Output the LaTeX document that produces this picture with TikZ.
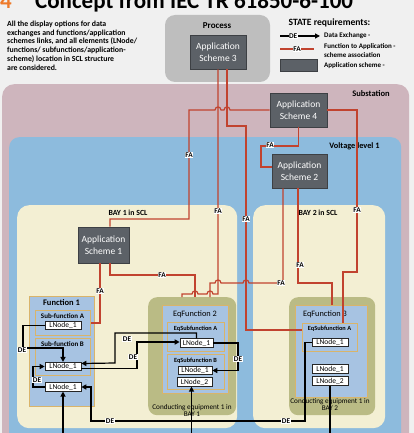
\documentclass[tikz,border=0pt]{standalone}
\usepackage{fontspec}
\setmainfont{Carlito}
\usetikzlibrary{arrows.meta}
\definecolor{bg}{HTML}{F0F0F0}
\definecolor{procgray}{HTML}{BEBEBE}
\definecolor{asfill}{HTML}{5C6167}
\definecolor{asborder}{HTML}{3D4044}
\definecolor{subst}{HTML}{CEB5BD}
\definecolor{vlblue}{HTML}{8DBBDD}
\definecolor{baycream}{HTML}{F3EFD3}
\definecolor{olive}{HTML}{BABB85}
\definecolor{fblue}{HTML}{A7C3E2}
\definecolor{forange}{HTML}{D9B46A}
\definecolor{fared}{HTML}{C1432F}
\definecolor{titleorange}{HTML}{EE7A2A}
\newcommand\myfs[2]{\fontsize{#1pt}{#2pt}\selectfont}
\begin{document}
\begin{tikzpicture}[x=1pt,y=-1pt,
  fa/.style={draw=fared, line width=1.2pt},
  de/.style={draw=black, line width=1.2pt},
  dea/.style={de, -{Triangle[length=5pt,width=5pt]}},
  appbox/.style={draw=asborder, fill=asfill, line width=0.8pt, text=white, font=\myfs{9.5}{12}, align=center, inner sep=0},
  cont/.style={anchor=north west, inner sep=0, draw=none},
  fbox/.style={cont, fill=fblue, draw=forange, line width=1pt},
  subbox/.style={cont, fill=fblue, draw=forange, line width=0.8pt},
  lnode/.style={draw=black!85, fill=white, line width=0.6pt, font=\myfs{7.5}{8}, inner sep=0, minimum width=36pt, minimum height=8.5pt},
  lbl/.style={fill=white, inner sep=0.8pt, font=\bfseries\myfs{7.3}{8}},
  hdr/.style={font=\bfseries\myfs{7.8}{9}, inner sep=0},
  sublbl/.style={font=\bfseries\myfs{6.5}{7}, inner sep=0},
  eqlbl/.style={font=\myfs{8.3}{9}, inner sep=0},
  cond/.style={font=\myfs{7.2}{7}, align=center, inner sep=0}
]
\useasboundingbox (0,0) rectangle (414,433);
\clip (0,0) rectangle (414,433);
\fill[bg] (0,0) rectangle (414,433);

% title
\node[anchor=base west, inner sep=0, text=titleorange, font=\bfseries\myfs{23}{23}] (num) at (0,9) {4};
\node[anchor=base west, inner sep=0, font=\bfseries\myfs{23}{23}] (title) at (35,9) {Concept from IEC TR 61850-6-100};

% intro text
\node[anchor=north west, align=left, inner sep=0, font=\bfseries\myfs{7.8}{8.9}] (intro) at (7,20.5)
 {All the display options for data\\exchanges and functions/application\\schemes links, and all elements (LNode/\\functions/ subfunctions/application-\\scheme) location in SCL structure\\are considered.};

% process
\node[fill=procgray, rounded corners=10pt, minimum width=105pt, minimum height=67pt, inner sep=0] (process) at (217.5,48.5) {};
\node[font=\bfseries\myfs{9}{10}, inner sep=0] (proclbl) at (217,26) {Process};
\node[appbox, minimum width=56pt, minimum height=34pt] (AS3) at (218,52) {Application\\Scheme 3};

% legend
\node[font=\bfseries\myfs{9.6}{10}, inner sep=0] (legtitle) at (329.5,23) {STATE requirements:};
\coordinate (lgde1) at (280,36);
\coordinate (lgde2) at (320,36);
\draw[dea] (lgde1) -- node[lbl, pos=0.33, inner sep=0.5pt] (lgdelbl) {DE} (lgde2);
\node[anchor=west, inner sep=0, font=\bfseries\myfs{7}{8}] (lgdetxt) at (324,36) {Data Exchange -};
\coordinate (lgfa1) at (280,49);
\coordinate (lgfa2) at (314,49);
\draw[fa] (lgfa1) -- node[lbl, pos=0.5, inner sep=0.5pt] (lgfalbl) {FA} (lgfa2);
\node[anchor=west, align=left, inner sep=0, font=\bfseries\myfs{7}{9}] (lgfatxt) at (324,50.5) {Function to Application -\\scheme association};
\node[fill=asfill, draw=asborder, line width=0.6pt, anchor=north west, minimum width=37pt, minimum height=12pt, inner sep=0] (lgas) at (280,59.5) {};
\node[anchor=west, inner sep=0, font=\bfseries\myfs{7}{8}] (lgastxt) at (324,66) {Application scheme -};

% containers
\node[cont, fill=subst, rounded corners=12pt, minimum width=407pt, minimum height=380pt] (subst) at (2,84) {};
\node[hdr, font=\bfseries\myfs{8.5}{9}] (substlbl) at (371,94) {Substation};
\node[cont, fill=vlblue, rounded corners=10pt, minimum width=392pt, minimum height=330pt] (vl) at (9,137) {};
\node[hdr, font=\bfseries\myfs{8.3}{9}] (vllbl) at (354.5,146) {Voltage level 1};
\node[cont, fill=baycream, rounded corners=12pt, minimum width=220pt, minimum height=223pt] (bay1) at (17,205) {};
\node[hdr] (bay1lbl) at (128,213) {BAY 1 in SCL};
\node[cont, fill=baycream, rounded corners=12pt, minimum width=132pt, minimum height=223pt] (bay2) at (253,205) {};
\node[hdr] (bay2lbl) at (318,212.5) {BAY 2 in SCL};

% application schemes
\node[appbox, minimum width=57pt, minimum height=34pt] (AS4) at (298.5,110) {Application\\Scheme 4};
\node[appbox, minimum width=55pt, minimum height=34pt] (AS2) at (299.5,171) {Application\\Scheme 2};
\node[appbox, minimum width=51pt, minimum height=36pt] (AS1) at (103.5,245) {Application\\Scheme 1};

% Function 1
\node[fbox, minimum width=65pt, minimum height=110pt] (F1) at (29,296) {};
\node[hdr, font=\bfseries\myfs{8.5}{9}] (F1lbl) at (61.5,302.5) {Function 1};
\node[subbox, minimum width=55pt, minimum height=25pt] (SubA) at (35,310) {};
\node[sublbl, font=\bfseries\myfs{7}{8}] (SubAlbl) at (62.5,316) {Sub-function A};
\node[lnode] (LNA) at (63,325.5) {LNode\_1};
\node[subbox, minimum width=55pt, minimum height=37pt] (SubB) at (35,338) {};
\node[sublbl, font=\bfseries\myfs{7}{8}] (SubBlbl) at (62.5,344) {Sub-function B};
\node[lnode] (LNB) at (63,366.5) {LNode\_1};
\node[lnode] (LNF) at (63,387) {LNode\_1};

% EqFunction 2
\node[cont, fill=olive, rounded corners=9pt, minimum width=88pt, minimum height=118pt] (EF2o) at (148,297) {};
\node[subbox, minimum width=66pt, minimum height=88pt] (EF2b) at (162,305) {};
\node[eqlbl] (EF2lbl) at (195,314) {EqFunction 2};
\node[subbox, line width=0.6pt, minimum width=57pt, minimum height=29pt] (EqSubA2) at (167,322) {};
\node[sublbl, font=\bfseries\myfs{6.3}{7}] (EqSubA2lbl) at (195.5,328.5) {EqSubfunction A};
\node[lnode, minimum width=33pt] (EqLA1) at (196.5,343) {LNode\_1};
\node[subbox, line width=0.6pt, minimum width=57pt, minimum height=35pt] (EqSubB2) at (167,354) {};
\node[sublbl, font=\bfseries\myfs{6.3}{7}] (EqSubB2lbl) at (195.5,361) {EqSubfunction B};
\node[lnode, minimum width=34pt] (EqLB1) at (195,370.5) {LNode\_1};
\node[lnode, minimum width=35pt] (EqLB2) at (194.5,382) {LNode\_2};
\node[cond] (cond1) at (192,410) {Conducting equipment 1 in\\BAY 1};

% EqFunction 3
\node[cont, fill=olive, rounded corners=9pt, minimum width=86pt, minimum height=118pt] (EF3o) at (289,297) {};
\node[subbox, line width=0.6pt, minimum width=72pt, minimum height=92pt] (EF3b) at (295,305) {};
\node[eqlbl] (EF3lbl) at (325,314) {EqFunction 3};
\node[subbox, line width=0.6pt, minimum width=55pt, minimum height=28pt] (EqSubA3) at (302,323) {};
\node[sublbl, font=\bfseries\myfs{6.3}{7}] (EqSubA3lbl) at (329.5,329) {EqSubfunction A};
\node[lnode] (L3A1) at (330,342.5) {LNode\_1};
\node[lnode] (L31) at (330,369) {LNode\_1};
\node[lnode] (L32) at (330,381) {LNode\_2};
\node[cond] (cond2) at (330,404) {Conducting equipment 1 in\\BAY 2};

% FA connectors
\draw[fa] (AS3.south) -- (218,294) -- (213,294) .. controls (213,290) and (207,290) .. (207,294)
  -- (198,294) .. controls (198,290) and (192,290) .. (192,294) -- (182,294) -- (182,0 |- EF2o.north);
\draw[fa] ([xshift=6.5pt]AS1.south) -- (110,275) -- (195,275) -- (195,0 |- EF2o.north);
\draw[fa] (AS4.west) -- (230,110) .. controls (230,106) and (224,106) .. (224,110)
  -- (221,110) .. controls (221,106) and (215,106) .. (215,110) -- (189,110) -- (189,219) -- (110,219) -- ([xshift=6.5pt]AS1.north);
\draw[fa] ([xshift=-3.5pt]AS1.south) |- (SubA.east);
\draw[fa] ([xshift=9pt]AS3.south) -- (227,126) -- (246,126) -- (246,330) -- (EqSubA3.west |- 0,330);
\draw[fa] ([xshift=-16.5pt]AS2.south) -- (283,283) -- (249,283) .. controls (249,279) and (243,279) .. (243,283)
  -- (221,283) .. controls (221,279) and (215,279) .. (215,283) -- (210,283) -- (210,0 |- EF2o.north);
\draw[fa] ([xshift=-1.5pt]AS2.south) -- (298,283) -- (332,283) -- (332,0 |- EF3b.north);
\draw[fa] (AS4.east) -- (357,110) -- (357,272) -- (343,272) -- (343,0 |- EqSubA3.north);
\draw[fa] (AS4.south) -- (298.5,146) -- (261,146) -- (261,167) -- (AS2.west |- 0,167);

% FA labels
\node[lbl] (fal1) at (218,211) {FA};
\node[lbl] (fal2) at (162,275) {FA};
\node[lbl] (fal3) at (189,155) {FA};
\node[lbl] (fal4) at (100,291) {FA};
\node[lbl] (fal5) at (246,219) {FA};
\node[lbl] (fal6) at (281,283) {FA};
\node[lbl] (fal7) at (300,265) {FA};
\node[lbl] (fal8) at (357,210) {FA};
\node[lbl] (fal9) at (270,145) {FA};

% DE connectors
\coordinate (bot1) at (63,440);
\coordinate (bot2) at (191.5,440);
\coordinate (bot3) at (330,440);
\draw[dea] (LNA.west) -- (23,325.5) -- (23,348) -- (63,348) -- (LNB.north);
\draw[dea] (EqLA1.north) -- (196.5,333) -- (115,333) -- (115,363) -- ([yshift=3pt]LNB.east);
\draw[dea] ([yshift=-2pt]LNB.east) -- (137,368.5) -- (137,342) -- ([yshift=1pt]EqLA1.west);
\draw[dea] (LNF.west) -- (33,387) -- (33,366.5) -- (LNB.west);
\draw[dea] (bot1) -- (LNF.south);
\draw[dea] (L3A1.west) -- (305,342.5) -- (305,421) -- (91,421) -- (91,387) -- (LNF.east);
\draw[dea] (bot2) -- ([xshift=-3pt]EqLB2.south);
\draw[dea] (EqLA1.east) -- (238,343) -- (238,370.5) -- (EqLB1.east);
\draw[de] (L32.south) -- (bot3);

% DE labels
\node[lbl] (del1) at (22,350) {DE};
\node[lbl] (del2) at (127,339) {DE};
\node[lbl] (del3) at (133,357) {DE};
\node[lbl] (del4) at (37,380) {DE};
\node[lbl] (del5) at (110,421) {DE};
\node[lbl] (del6) at (286,421) {DE};
\node[lbl] (del7) at (238,359) {DE};
\end{tikzpicture}
\end{document}
